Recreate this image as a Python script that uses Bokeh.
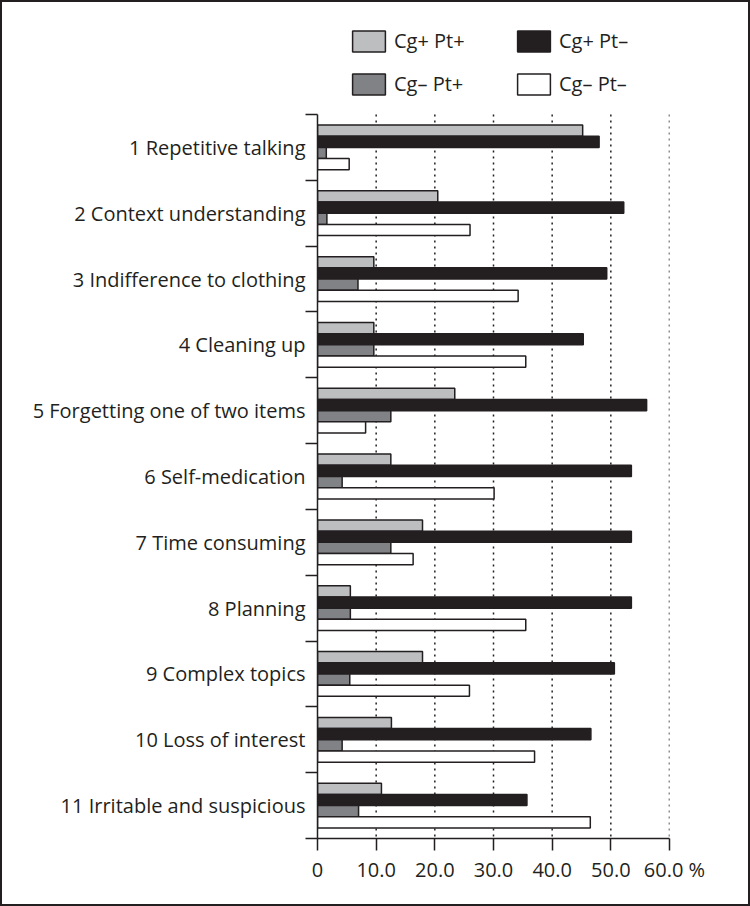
from bokeh.plotting import figure
from bokeh.models import (Range1d, FixedTicker, Legend, LegendItem, ColumnDataSource)
from bokeh.embed import file_html
from bokeh.resources import INLINE

categories = ["1 Repetitive talking", "2 Context understanding", "3 Indifference to clothing",
              "4 Cleaning up", "5 Forgetting one of two items", "6 Self-medication",
              "7 Time consuming", "8 Planning", "9 Complex topics", "10 Loss of interest",
              "11 Irritable and suspicious"]
cgp_ptp = [45.2, 20.5, 9.6, 9.6, 23.4, 12.5, 17.9, 5.6, 17.9, 12.6, 10.9]
cgp_ptm = [48.0, 52.2, 49.3, 45.3, 56.1, 53.5, 53.5, 53.5, 50.6, 46.6, 35.7]
cgm_ptp = [1.5, 1.6, 6.9, 9.6, 12.5, 4.2, 12.5, 5.6, 5.5, 4.2, 7.0]
cgm_ptm = [5.4, 26.0, 34.2, 35.5, 8.2, 30.1, 16.3, 35.5, 25.9, 37.0, 46.5]
series_names = ["Cg+ Pt+", "Cg+ Pt\u2013", "Cg\u2013 Pt+", "Cg\u2013 Pt\u2013"]
x_ticks = [0, 10, 20, 30, 40, 50, 60]
x_tick_labels = ["0", "10.0", "20.0", "30.0", "40.0", "50.0", "\u200260.0 %"]

INK = "#231f20"
FONT = "Open Sans"
FS = "20px"
colors = ["#bcbec0", INK, "#808285", "#ffffff"]
offsets = [-0.255, -0.085, 0.085, 0.255]
bar_h = 0.17
n = len(categories)
# extra room above the categories (in category units) that holds the key
top_pad = 112 / (724 / n)

p = figure(width=746, height=902, x_range=Range1d(0, 60), y_range=Range1d(n, -top_pad),
           output_backend="svg", toolbar_location=None,
           min_border_left=315, min_border_right=79, min_border_top=0, min_border_bottom=66)
p.styles = {"margin": "2px", "outline": "2px solid #231f20", "outline-offset": "0px"}
p.outline_line_color = None
p.background_fill_color = "white"

# dotted reference lines at the x ticks, spanning the category block only
grid_x = x_ticks[1:]
p.segment(x0=grid_x, y0=[0] * len(grid_x), x1=grid_x, y1=[n] * len(grid_x),
          line_color=INK, line_width=1.5, line_dash="2 4")

centers = [i + 0.5 for i in range(n)]
renderers = []
for vals, col, off in zip([cgp_ptp, cgp_ptm, cgm_ptp, cgm_ptm], colors, offsets):
    src = ColumnDataSource(dict(y=[c + off for c in centers], right=vals))
    r = p.hbar(y="y", left=0, right="right", height=bar_h, source=src,
               fill_color=col, line_color=INK, line_width=1.5)
    renderers.append(r)

xa = p.xaxis[0]
xa.ticker = FixedTicker(ticks=x_ticks, minor_ticks=[])
xa.major_label_overrides = {t: l for t, l in zip(x_ticks, x_tick_labels)}
xa.major_tick_out = 12
xa.major_tick_in = 0
xa.minor_tick_out = 0
xa.axis_line_color = INK
xa.axis_line_width = 1.5
xa.major_tick_line_color = INK
xa.major_tick_line_width = 1.5
xa.major_label_text_font = FONT
xa.major_label_text_font_size = FS
xa.major_label_text_color = INK
xa.major_label_standoff = 5

ya = p.yaxis[0]
ya.bounds = (0, n)
ya.ticker = FixedTicker(ticks=centers, minor_ticks=list(range(n + 1)))
ya.major_label_overrides = {c: name for c, name in zip(centers, categories)}
ya.major_tick_out = 0
ya.major_tick_in = 0
ya.minor_tick_out = 12
ya.minor_tick_in = 0
ya.minor_tick_line_color = INK
ya.minor_tick_line_width = 1.5
ya.axis_line_color = INK
ya.axis_line_width = 1.5
ya.major_label_text_font = FONT
ya.major_label_text_font_size = FS
ya.major_label_text_color = INK
ya.major_label_standoff = 0

p.xgrid.visible = False
p.ygrid.visible = False

def make_legend(idx, loc):
    leg = Legend(items=[LegendItem(label=series_names[i], renderers=[renderers[i]]) for i in idx],
                 location=loc, orientation="vertical",
                 glyph_width=41, glyph_height=26,
                 label_standoff=5, spacing=16, padding=0, margin=0,
                 border_line_color=None, background_fill_alpha=0,
                 label_text_font=FONT, label_text_font_size=FS, label_text_color=INK)
    p.add_layout(leg, "center")

make_legend([0, 2], (31, 741))
make_legend([1, 3], (196, 741))

open("out.html", "w").write(file_html(p, INLINE))
